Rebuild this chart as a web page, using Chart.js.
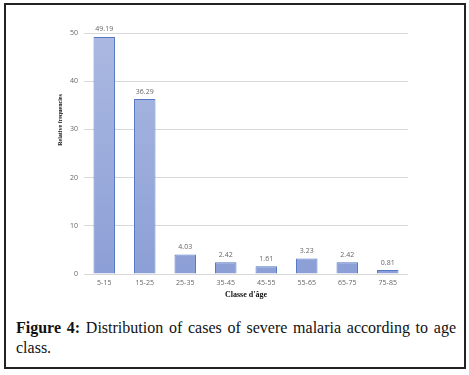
<!DOCTYPE html>
<html>
<head>
<meta charset="utf-8">
<script src="https://cdn.jsdelivr.net/npm/chart.js@4"></script>
<style>
  body { margin: 0; background: #fff; }
  #cadre { position: absolute; left: 4px; top: 3px; width: 458px; height: 362px; border: 2px solid #222; }
  #graf { position: absolute; left: 0; top: 0; }
  #legende { position: absolute; left: 16px; top: 318px; width: 440px; font-family: "Liberation Serif", serif; font-size: 16px; line-height: 20px; text-align: justify; color: #111; }
  #legende b { font-weight: bold; }
</style>
</head>
<body>
<div id="cadre"></div>
<canvas id="graf" width="469" height="300"></canvas>
<div id="legende"><b>Figure 4:</b> Distribution of cases of severe malaria according to age class.</div>
<script>
// donnees du graphique
let classes = ["5-15", "15-25", "25-35", "35-45", "45-55", "55-65", "65-75", "75-85"];
let frequences = [49.19, 36.29, 4.03, 2.42, 1.61, 3.23, 2.42, 0.81];
let etiquettes = ["49.19", "36.29", "4.03", "2.42", "1.61", "3.23", "2.42", "0.81"];

//Plugin pour les valeurs au dessus des barres
const valeursBarres = {
    id: "valeursBarres",
    afterDatasetsDraw(chart) {
        let ctx = chart.ctx;
        let meta = chart.getDatasetMeta(0);
        ctx.save();
        ctx.font = "7px 'Open Sans'";
        ctx.fillStyle = "#666";
        ctx.textAlign = "center";
        ctx.textBaseline = "bottom";
        meta.data.forEach(function (barre, i) {
            ctx.fillText(etiquettes[i], barre.x, barre.y - 4);
        });
        ctx.restore();
    }
};

//Titre de l'axe Y (decale vers le haut comme dans l'original)
const titreY = {
    id: "titreY",
    afterDraw(chart) {
        let ctx = chart.ctx;
        ctx.save();
        ctx.translate(60, 120);
        ctx.rotate(-Math.PI / 2);
        ctx.font = "bold 6px 'Liberation Serif'";
        ctx.fillStyle = "#111";
        ctx.textAlign = "center";
        ctx.textBaseline = "middle";
        ctx.fillText("Relative frequencies", 0, 0);
        ctx.restore();
    }
};

const ctxGraf = document.getElementById("graf").getContext("2d");

const config = {
    type: "bar",
    data: {
        labels: classes,
        datasets: [{
            data: frequences,
            backgroundColor: function (context) {
                let area = context.chart.chartArea;
                if (!area) return "#9aabdc";
                let g = context.chart.ctx.createLinearGradient(0, area.top, 0, area.bottom);
                g.addColorStop(0, "#abb9e1");
                g.addColorStop(1, "#8c9fd6");
                return g;
            },
            borderColor: "#5478c6",
            borderWidth: { top: 1, left: 1, right: 1, bottom: 0 },
            categoryPercentage: 1,
            barPercentage: 0.53
        }]
    },
    options: {
        responsive: false,
        animation: false,
        layout: { padding: { top: 33, right: 61, left: 0, bottom: 0 } },
        plugins: {
            legend: { display: false },
            tooltip: { enabled: false }
        },
        scales: {
            x: {
                grid: { display: false, drawTicks: false },
                border: { display: false },
                ticks: { color: "#666", font: { family: "Open Sans", size: 7 }, padding: 5, maxRotation: 0 },
                title: { display: true, text: "Classe d'âge", color: "#111", font: { family: "Liberation Serif", size: 8, weight: "bold" }, padding: { top: 0, bottom: 0 } },
                afterFit: function (scale) { scale.height = 26; }
            },
            y: {
                min: 0,
                max: 50,
                ticks: { stepSize: 10, color: "#666", font: { family: "Open Sans", size: 7 }, padding: 6 },
                grid: { color: "#d9d9d9", drawTicks: false },
                border: { display: false },
                afterFit: function (scale) { scale.width = 84; }
            }
        }
    },
    plugins: [valeursBarres, titreY]
};

const monGraf = new Chart(ctxGraf, config);
</script>
</body>
</html>
